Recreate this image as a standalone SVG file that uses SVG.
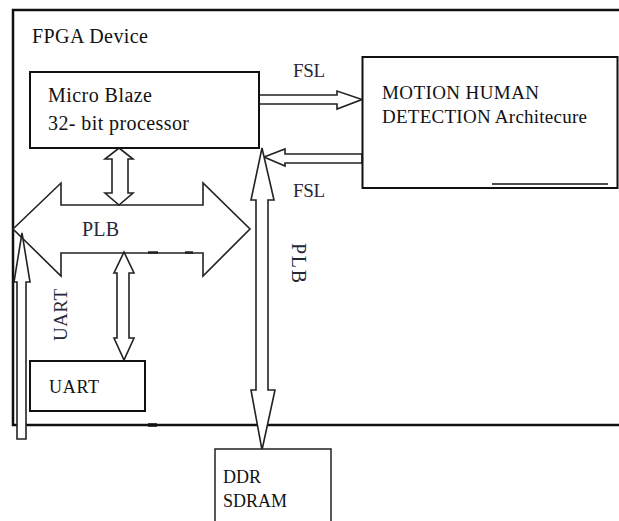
<svg xmlns="http://www.w3.org/2000/svg" width="619" height="521" viewBox="0 0 619 521">
<style>
.box{fill:#fff;stroke:#111;stroke-width:2}
.arr{fill:#fff;stroke:#222;stroke-width:1.6;stroke-linejoin:miter}
.t{fill:#111}
.lbl{fill:#26263a}
</style>
<rect width="619" height="521" fill="#fff"/>
<g font-family="Liberation Serif, DejaVu Serif, Noto Serif, serif">
<g id="fpga">
<path d="M619,10 H13 V425 H619" fill="none" stroke="#111" stroke-width="2.5"/>
<text class="t" x="32" y="43" font-size="20" textLength="116">FPGA Device</text>
<line x1="148" y1="425" x2="157" y2="425" stroke="#111" stroke-width="3.5"/>
</g>
<g id="connectors">
<polygon class="arr" points="13,229 61,183 61,205 203,205 203,183 250,229 203,276 203,253 61,253 61,276"/>
<line x1="148" y1="252.5" x2="158" y2="252.5" stroke="#222" stroke-width="2.5"/>
<line x1="185" y1="252.5" x2="193" y2="252.5" stroke="#222" stroke-width="2.5"/>
<polygon class="arr" points="119,148 133,159 128,159 128,193 133,193 119,205 105,193 112,193 112,159 105,159"/>
<polygon class="arr" points="124,252 134,273 129,273 129,338 134,338 124,360 114,338 117,338 117,273 114,273"/>
<polygon class="arr" points="22,233 30,282 26,282 26,439 17,439 17,282 14,282"/>
<polygon class="arr" points="259,95 337,95 337,91 362,99.5 337,109 337,104 259,104"/>
<polygon class="arr" points="362,154 285,154 285,149 264,157 285,166 285,163 362,163"/>
<polygon class="arr" points="262,148 274,200 268,200 268,390 275,390 262,450 251,390 256,390 256,200 251,200"/>
<text class="lbl" x="82" y="236" font-size="20" textLength="37">PLB</text>
<text class="lbl" x="293" y="77" font-size="19" textLength="32">FSL</text>
<text class="lbl" x="293" y="197" font-size="19" textLength="32">FSL</text>
<text class="lbl" font-size="20" textLength="40" transform="translate(292,243) rotate(90)">PLB</text>
<text class="lbl" font-size="19" textLength="52" transform="translate(67,341) rotate(-90)">UART</text>
</g>
<g id="microblaze">
<rect class="box" x="30" y="72" width="229" height="76"/>
<text class="t" x="48" y="102" font-size="20" textLength="104">Micro Blaze</text>
<text class="t" x="48" y="130" font-size="20" textLength="141">32- bit processor</text>
</g>
<g id="motion">
<rect class="box" x="362.5" y="57" width="255" height="131"/>
<line x1="492" y1="184" x2="608" y2="184" stroke="#111" stroke-width="1.5"/>
<text class="t" x="382" y="99" font-size="19" textLength="157">MOTION HUMAN</text>
<text class="t" x="382" y="123" font-size="19" textLength="205">DETECTION Architecure</text>
</g>
<g id="uart">
<rect class="box" x="30" y="361" width="115" height="50"/>
<text class="t" x="49" y="393" font-size="18" textLength="50">UART</text>
</g>
<g id="ddr">
<rect x="215" y="449" width="116" height="90" fill="#fff" stroke="#222" stroke-width="1.5"/>
<text class="t" x="223" y="483" font-size="18">DDR</text>
<text class="t" x="223" y="507" font-size="18">SDRAM</text>
</g>
</g>
</svg>
